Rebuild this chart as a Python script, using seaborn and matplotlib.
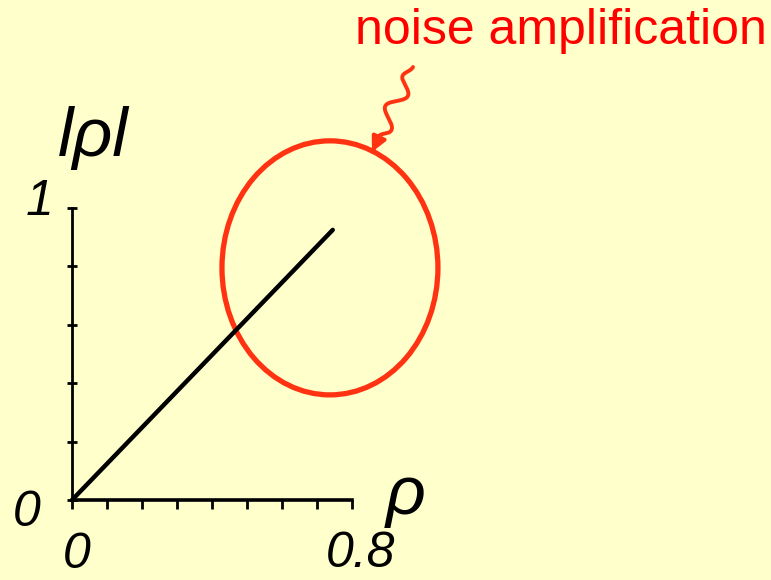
import numpy as np
import matplotlib
matplotlib.use("Agg")
import matplotlib.pyplot as plt
import seaborn as sns
import pandas as pd
from matplotlib.patches import Ellipse, FancyArrowPatch
from matplotlib.path import Path

# ---- data ----
rho = [0.0, 0.745]
mag = [0.0, 0.925]
x_ticks = [0.0, 0.1, 0.2, 0.3, 0.4, 0.5, 0.6, 0.7, 0.8]
y_ticks = [0.0, 0.2, 0.4, 0.6, 0.8, 1.0]
x_tick_labels = ["0", "0.8"]
y_tick_labels = ["0", "1"]
ellipse_center = (0.737, 0.795)
ellipse_size = (0.617, 0.870)
annotation_text = "noise amplification"

BG = "#FFFFCC"
RED = "#FF0000"
ORANGE_RED = "#FF3311"

sns.set_theme(style="white")
plt.rcParams["font.family"] = ["Liberation Sans", "DejaVu Sans"]

W, H = 771, 580
fig = plt.figure(figsize=(W / 100, H / 100), dpi=100, facecolor=BG)
ax = fig.add_axes([72 / W, (H - 500) / H, 280 / W, 292 / H])
ax.set_facecolor("none")

df = pd.DataFrame({"rho": rho, "mag": mag})
sns.lineplot(data=df, x="rho", y="mag", ax=ax, color="black", lw=3.2)

ax.set_xlim(0, 0.8)
ax.set_ylim(0, 1)
for s in ["top", "right"]:
    ax.spines[s].set_visible(False)
ax.spines["left"].set_linewidth(2.0)
ax.spines["bottom"].set_linewidth(2.6)
ax.spines["left"].set_color("black")
ax.spines["bottom"].set_color("black")
ax.set_xticks(x_ticks)
ax.set_yticks(y_ticks)
ax.set_xticklabels([])
ax.set_yticklabels([])
ax.tick_params(axis="x", direction="out", length=6.5, width=2, color="black", bottom=True)
ax.tick_params(axis="y", direction="inout", length=6.5, width=2, color="black", left=True)
ax.set_xlabel("")
ax.set_ylabel("")

lab = dict(fontstyle="italic", color="black", clip_on=False, fontsize=36)
ax.text(x_ticks[0] + 0.014, -0.19, x_tick_labels[0], ha="center", va="center", **lab)
ax.text(x_ticks[-1] + 0.023, -0.186, x_tick_labels[1], ha="center", va="center", **lab)
ax.text(-0.092, y_ticks[-1] + 0.02, y_tick_labels[1], ha="center", va="center", **lab)
ax.text(-0.129, -0.045, y_tick_labels[0], ha="center", va="center", **lab)
ax.text(0.954, 0.015, "ρ", ha="center", va="center", fontstyle="italic", fontsize=50,
        color="black", clip_on=False)
ax.text(0.06, 1.24, "lρl", ha="center", va="center", fontstyle="italic", fontsize=50,
        color="black", clip_on=False)

ell = Ellipse(ellipse_center, ellipse_size[0], ellipse_size[1], fill=False,
              edgecolor=ORANGE_RED, lw=3.8, clip_on=False)
ax.add_patch(ell)

fig.text(561 / W, 1 - 31 / H, annotation_text, ha="center", va="center",
         color=RED, fontsize=36)

# wavy arrow (pixel coordinates -> figure fraction)
p0 = np.array([413.0, 67.0])
p1 = np.array([372.0, 152.0])
t = np.linspace(0, 1, 200)
d = p1 - p0
L = np.hypot(*d)
u = d / L
nrm = np.array([-u[1], u[0]])
amp = 8.0 * np.sin(2 * np.pi * 2.5 * t) * np.clip(t * 6, 0, 1) * np.clip((0.88 - t) * 7, 0, 1)
pts = p0[None, :] + t[:, None] * d[None, :] + amp[:, None] * nrm[None, :]
fx = pts[:, 0] / W
fy = 1 - pts[:, 1] / H
verts = list(zip(fx, fy))
codes = [Path.MOVETO] + [Path.LINETO] * (len(verts) - 1)
arrow = FancyArrowPatch(path=Path(verts, codes), arrowstyle="-|>", mutation_scale=22,
                        color=ORANGE_RED, lw=2.8, transform=fig.transFigure)
fig.patches.append(arrow)

fig.savefig("out.png", dpi=100, facecolor=BG)
